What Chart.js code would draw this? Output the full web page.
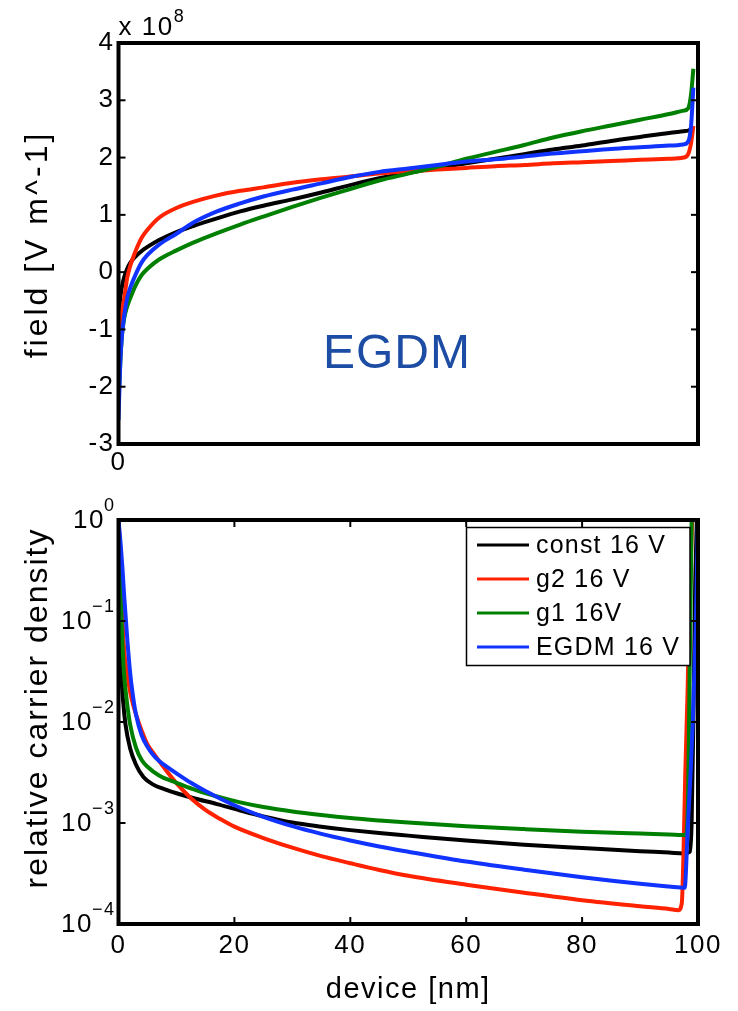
<!DOCTYPE html>
<html><head><meta charset="utf-8">
<script src="https://cdn.jsdelivr.net/npm/chart.js@4.4.1/dist/chart.umd.min.js"></script>
<style>
html,body{margin:0;padding:0;background:#fff;width:738px;height:1011px;overflow:hidden;}
canvas{position:absolute;left:0;display:block;}
#c1{top:0}
#c2{top:480px}
</style></head><body>
<canvas id="c1" width="738" height="480"></canvas>
<canvas id="c2" width="738" height="531"></canvas>
<script>
// ---------- DATA ----------
const seriesLabels = ['const 16 V', 'g2 16 V', 'g1 16V', 'EGDM 16 V'];

// Top panel: field [x 1e8 V/m] vs device position [nm]
const fieldX     = [0,0.3,0.6,1,1.5,2,3,4,5,7,10,13,17,21,25,30,35,40,45,50,55,60,65,70,75,80,85,90,95,97.5,98.3,98.8,99.2];
const fieldConst = [-0.80,-0.45,-0.25,-0.08,0.06,0.16,0.28,0.37,0.44,0.56,0.70,0.81,0.94,1.06,1.16,1.27,1.39,1.52,1.64,1.73,1.82,1.90,1.98,2.06,2.14,2.21,2.29,2.36,2.43,2.46,2.47,2.49,2.51];
const fieldG2    = [-1.30,-0.95,-0.70,-0.45,-0.10,0.10,0.38,0.60,0.74,0.95,1.12,1.23,1.34,1.42,1.48,1.56,1.62,1.67,1.72,1.76,1.79,1.82,1.85,1.87,1.90,1.92,1.94,1.96,1.98,2.00,2.06,2.25,2.55];
const fieldG1    = [-2.30,-1.60,-1.10,-0.80,-0.60,-0.46,-0.22,-0.05,0.06,0.22,0.38,0.52,0.68,0.83,0.97,1.14,1.30,1.45,1.60,1.72,1.84,1.98,2.10,2.22,2.35,2.46,2.56,2.66,2.76,2.82,2.86,3.10,3.55];
const fieldEGDM  = [-2.58,-1.60,-1.10,-0.75,-0.45,-0.28,-0.03,0.17,0.30,0.48,0.67,0.87,1.06,1.20,1.32,1.44,1.55,1.66,1.75,1.81,1.87,1.93,1.97,2.02,2.07,2.11,2.15,2.18,2.21,2.23,2.28,2.55,3.22];
const fieldTicks = [-3,-2,-1,0,1,2,3,4];

// Bottom panel: relative carrier density vs device position [nm]
const densConstX = [0,0.15,0.3,0.5,0.8,1.2,2,3,4.3,6,8,10,13,17,21,25,30,35,40,45,50,60,70,80,90,95,97.5,98.6,98.9,99.2,99.5,99.8];
const densConst  = [1,0.3,0.07,0.03,0.016,0.0095,0.0055,0.0038,0.00285,0.0024,0.00215,0.00197,0.00176,0.00154,0.00133,0.00116,0.00101,0.00092,0.00085,0.000795,0.00075,0.00067,0.00061,0.000565,0.000525,0.00051,0.0005,0.00052,0.001,0.01,0.2,1];
const densG2X    = [0,0.2,0.4,0.7,1,1.5,2,2.5,3,4,5,6,7,8.5,10,12.5,15,17.5,20,25,30,35,40,45,50,60,70,80,90,95,96.6,97.2,97.5,97.8,98.2,98.6,99];
const densG2     = [1,0.6,0.3,0.1,0.05,0.03,0.02,0.015,0.012,0.0082,0.006,0.00495,0.00412,0.00316,0.00248,0.00176,0.00135,0.0011,0.00092,0.00071,0.00057,0.00047,0.0004,0.000343,0.0003,0.000245,0.000204,0.000172,0.00015,0.000141,0.000137,0.00016,0.0005,0.003,0.02,0.2,1];
const densG1X    = [0,0.2,0.4,0.7,1,1.5,2,3,4,5,7,10,13,17,21,25,30,35,40,45,50,60,70,80,90,95,97.9,98.3,98.6,98.9];
const densG1     = [1,0.4,0.15,0.055,0.028,0.015,0.0095,0.0056,0.0042,0.0036,0.00295,0.0025,0.00215,0.00183,0.0016,0.00144,0.0013,0.0012,0.00112,0.00106,0.00101,0.00093,0.00087,0.00082,0.000785,0.00077,0.00076,0.002,0.05,1];
const densEGDMX  = [0,0.2,0.4,0.7,1,1.5,2,2.5,3,4,5,6,7,8.5,10,12.5,15,17.5,20,25,30,35,40,45,50,60,70,80,90,95,97.7,98.2,98.7,99.1,99.6,100];
const densEGDM   = [1,0.75,0.55,0.32,0.17,0.068,0.031,0.018,0.012,0.0074,0.0057,0.0047,0.0041,0.00355,0.0031,0.0025,0.00207,0.00175,0.0015,0.00115,0.00093,0.00078,0.00067,0.000585,0.00052,0.000415,0.000345,0.00029,0.00025,0.000235,0.000228,0.0008,0.003,0.01,0.08,1];
const densTicks  = [1e-4,1e-3,1e-2,1e-1,1];
const deviceTicks = [0,20,40,60,80,100];

// ---------- STYLE ----------
const FONT = "'Liberation Sans', Arial, Helvetica, sans-serif";
const COLORS = ['#000000', '#ff2200', '#008000', '#1133ff'];
Chart.defaults.font.family = FONT;
Chart.defaults.color = '#000';

function pts(xs, ys) { return xs.map((x, i) => ({ x: x, y: ys[i] })); }
function ds(i, xs, ys) {
  return {
    label: seriesLabels[i], data: pts(xs, ys), borderColor: COLORS[i], backgroundColor: COLORS[i],
    borderWidth: 4, pointRadius: 0, fill: false, cubicInterpolationMode: 'monotone',
    order: 4 - i
  };
}

const framePlugin = {
  id: 'frame',
  beforeDraw(chart) { chart.ctx.letterSpacing = '1.5px'; },
  afterDatasetsDraw(chart, args, o) {
    const ctx = chart.ctx, a = chart.chartArea;
    const xs = chart.scales.x, ys = chart.scales.y;
    ctx.save();
    ctx.strokeStyle = '#000';
    ctx.lineWidth = 2;
    const L = 7;
    const line = (x1, y1, x2, y2) => { ctx.beginPath(); ctx.moveTo(x1, y1); ctx.lineTo(x2, y2); ctx.stroke(); };
    (o.yTicks || []).forEach(v => {
      const p = ys.getPixelForValue(v);
      line(a.left, p, a.left + L, p); line(a.right, p, a.right - L, p);
    });
    (o.xTicks || []).forEach(v => {
      const p = xs.getPixelForValue(v);
      line(p, a.bottom, p, a.bottom - L); line(p, a.top, p, a.top + L);
    });
    ctx.lineWidth = 4;
    ctx.strokeRect(a.left, a.top, a.right - a.left, a.bottom - a.top);
    ctx.restore();
  },
  afterDraw(chart, args, o) {
    const ctx = chart.ctx, a = chart.chartArea;
    ctx.save();
    ctx.fillStyle = '#000';
    if (o.yTitle) {
      ctx.save();
      ctx.font = o.yTitle.size + 'px ' + FONT;
      ctx.letterSpacing = o.yTitle.spacing + 'px';
      ctx.textAlign = 'center'; ctx.textBaseline = 'middle';
      ctx.translate(o.yTitle.x, (a.top + a.bottom) / 2 + o.yTitle.dy);
      ctx.rotate(-Math.PI / 2);
      ctx.fillText(o.yTitle.text, 0, 0);
      ctx.restore();
    }
    ctx.letterSpacing = '1.5px';
    if (o.multiplier) {
      ctx.font = '26px ' + FONT; ctx.textAlign = 'left'; ctx.textBaseline = 'alphabetic';
      const t = 'x 10';
      ctx.fillText(t, a.left, 35);
      const w = ctx.measureText(t).width;
      ctx.font = '18px ' + FONT;
      ctx.fillText('8', a.left + w, 22);
    }
    if (o.annotation) {
      ctx.font = '48px ' + FONT; ctx.fillStyle = '#1c4ca4';
      ctx.textAlign = 'center'; ctx.textBaseline = 'middle';
      ctx.letterSpacing = '1px';
      ctx.fillText(o.annotation, 397, 355);
      ctx.fillStyle = '#000';
    }
    if (o.logLabels) {
      const ys = chart.scales.y;
      ctx.letterSpacing = '1.5px';
      o.logLabels.forEach(v => {
        const p = ys.getPixelForValue(v);
        const e = Math.round(Math.log10(v));
        const sup = e === 0 ? '0' : '\u2212' + Math.abs(e);
        ctx.font = '18px ' + FONT;
        const sw = ctx.measureText(sup).width;
        const right = a.left - 3;
        ctx.textAlign = 'left'; ctx.textBaseline = 'middle';
        ctx.fillText(sup, right - sw, p - 14);
        ctx.font = '26px ' + FONT;
        ctx.textAlign = 'right';
        ctx.fillText('10', right - sw + 1, p + 1);
      });
    }
    if (o.legend) {
      const L = o.legend;
      ctx.fillStyle = '#fff';
      ctx.fillRect(L.left, L.top, L.right - L.left, L.bottom - L.top);
      ctx.strokeStyle = '#000'; ctx.lineWidth = 1.5;
      ctx.strokeRect(L.left, L.top, L.right - L.left, L.bottom - L.top);
      ctx.font = '25px ' + FONT; ctx.textAlign = 'left'; ctx.textBaseline = 'middle';
      ctx.letterSpacing = '1.2px';
      chart.data.datasets.forEach((d, i) => {
        const y = L.firstRow + i * L.rowGap;
        ctx.strokeStyle = d.borderColor; ctx.lineWidth = 3;
        ctx.beginPath(); ctx.moveTo(L.lineX1, y); ctx.lineTo(L.lineX2, y); ctx.stroke();
        ctx.fillStyle = '#000';
        ctx.fillText(d.label, L.textX, y + 1);
      });
    }
    ctx.restore();
  }
};

// ---------- TOP CHART ----------
const W = 738, PLOT_LEFT = 118.5, PLOT_RIGHT = 698;
new Chart(document.getElementById('c1'), {
  type: 'line',
  data: { datasets: [
    ds(0, fieldX, fieldConst), ds(1, fieldX, fieldG2), ds(2, fieldX, fieldG1), ds(3, fieldX, fieldEGDM)
  ]},
  options: {
    responsive: false, animation: false, devicePixelRatio: 1,
    layout: { padding: { left: 0, top: 43, right: W - PLOT_RIGHT, bottom: 0 } },
    plugins: {
      legend: { display: false }, tooltip: { enabled: false },
      frame: { yTicks: fieldTicks, xTicks: [], multiplier: true, annotation: 'EGDM',
               yTitle: { text: 'field [V m^-1]', size: 32, spacing: 3, x: 38, dy: 1 } }
    },
    scales: {
      x: {
        type: 'linear', min: 0, max: 100,
        grid: { display: false, drawTicks: false }, border: { display: false },
        ticks: { stepSize: 100, padding: 3, maxRotation: 0, font: { size: 26 },
                 callback: v => (v === 0 ? '0' : '') },
        afterFit: s => { s.height = 480 - 444; }
      },
      y: {
        type: 'linear', min: -3, max: 4,
        grid: { display: false, drawTicks: false }, border: { display: false },
        ticks: { stepSize: 1, padding: 4, font: { size: 26 } },
        afterFit: s => { s.width = PLOT_LEFT; }
      }
    }
  },
  plugins: [framePlugin]
});

// ---------- BOTTOM CHART ----------
new Chart(document.getElementById('c2'), {
  type: 'line',
  data: { datasets: [
    ds(0, densConstX, densConst), ds(1, densG2X, densG2), ds(2, densG1X, densG1), ds(3, densEGDMX, densEGDM)
  ]},
  options: {
    responsive: false, animation: false, devicePixelRatio: 1,
    layout: { padding: { left: 0, top: 40, right: W - PLOT_RIGHT, bottom: 0 } },
    plugins: {
      legend: { display: false }, tooltip: { enabled: false },
      frame: {
        yTicks: densTicks, xTicks: [20, 40, 60, 80], logLabels: densTicks,
        yTitle: { text: 'relative carrier density', size: 32, spacing: 2, x: 38, dy: -14 },
        legend: { left: 466.5, top: 47.5, right: 690, bottom: 185.5, lineX1: 477, lineX2: 529, textX: 536, firstRow: 65, rowGap: 34 }
      }
    },
    scales: {
      x: {
        type: 'linear', min: 0, max: 100,
        grid: { display: false, drawTicks: false }, border: { display: false },
        ticks: { stepSize: 20, padding: 6, maxRotation: 0, font: { size: 26 } },
        afterBuildTicks: s => { s.ticks = deviceTicks.map(v => ({ value: v })); },
        title: { display: true, text: 'device [nm]', font: { size: 29, lineHeight: 1.2 }, padding: { top: 0, bottom: 4 } },
        afterFit: s => { s.height = 531 - 444; }
      },
      y: {
        type: 'logarithmic', min: 1e-4, max: 1,
        grid: { display: false, drawTicks: false }, border: { display: false },
        ticks: { display: false },
        afterBuildTicks: s => { s.ticks = densTicks.map(v => ({ value: v, major: true })); },
        afterFit: s => { s.width = PLOT_LEFT; }
      }
    }
  },
  plugins: [framePlugin]
});
</script>
</body></html>
